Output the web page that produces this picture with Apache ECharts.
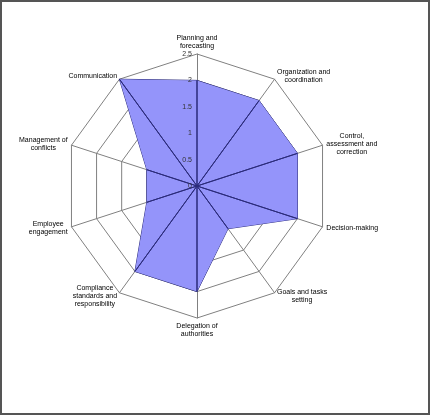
<!DOCTYPE html>
<html>
<head>
<meta charset="utf-8">
<script src="https://cdn.jsdelivr.net/npm/echarts@6/dist/echarts.min.js"></script>
<style>
  html, body { margin: 0; padding: 0; background: #fff; }
  #chart { position: absolute; left: 0; top: 0; width: 430px; height: 415px; }
  #frame { position: absolute; left: 0; top: 0; width: 426px; height: 411px; border: 2px solid #555; pointer-events: none; }
</style>
</head>
<body>
<div id="chart"></div>
<div id="frame"></div>
<script>
// indicators in clockwise order from the top
const categories = [
  'Planning and\nforecasting',
  'Organization and\ncoordination',
  'Control,\nassessment and\ncorrection',
  'Decision-making',
  'Goals and tasks\nsetting',
  'Delegation of\nauthorities',
  'Compliance\nstandards and\nresponsibility',
  'Employee\nengagement',
  'Management of\nconflicts',
  'Communication'
]
const values = [2, 2, 2, 2, 1, 2, 2, 1, 1, 2.5]
const axisMax = 2.5
const tickStep = 0.5

const font = 'Liberation Sans, Arial, sans-serif'
const center = [197, 186]
const radius = 132

// echarts places indicators counter-clockwise, so reverse all but the first
const order = [0].concat(categories.map((c, i) => i).slice(1).reverse())
const indicator = order.map(i => ({ name: categories[i], min: 0, max: axisMax }))
const mainValues = order.map(i => values[i])

// spokes inside the filled area: one degenerate polygon per axis
const spokes = order.map((i, k) => ({
  value: order.map((j, m) => (m === k ? values[i] : 0))
}))

const chart = echarts.init(document.getElementById('chart'))
chart.setOption({
  animation: false,
  textStyle: { fontFamily: font },
  radar: {
    center: center,
    radius: radius,
    startAngle: 90,
    shape: 'polygon',
    splitNumber: axisMax / tickStep,
    indicator: indicator,
    nameGap: 4,
    axisName: {
      color: '#000',
      fontSize: 7,
      lineHeight: 8,
      fontFamily: font,
      // centre every line inside the label block
      formatter: name => name.split('\n').map(s => '{c|' + s + '}').join('\n'),
      rich: {
        c: { align: 'center', color: '#000', fontSize: 7, lineHeight: 8, fontFamily: font }
      }
    },
    axisLine: { lineStyle: { color: '#808080', width: 1 } },
    splitLine: { lineStyle: { color: '#808080', width: 1 } },
    splitArea: { show: false },
    axisTick: { show: false },
    axisLabel: { show: false }
  },
  // polar overlay only used to print the tick labels along the top axis
  polar: { center: center, radius: radius },
  angleAxis: { show: false, startAngle: 90 },
  radiusAxis: {
    min: 0,
    max: axisMax,
    interval: tickStep,
    z: 10,
    axisLine: { show: false },
    axisTick: { show: false },
    splitLine: { show: false },
    axisLabel: { color: '#333', fontSize: 7, margin: 5, fontFamily: font }
  },
  series: [
    {
      type: 'radar',
      symbol: 'none',
      z: 2,
      lineStyle: { color: '#2b2b7a', width: 1 },
      areaStyle: { color: '#9494fa', opacity: 1 },
      data: [{ value: mainValues }]
    },
    {
      type: 'radar',
      z: 3,
      symbol: 'circle',
      symbolSize: v => (v === 0 ? 3 : 0),
      itemStyle: { color: '#000' },
      lineStyle: { color: '#2b2b7a', width: 1 },
      areaStyle: { opacity: 0 },
      data: spokes
    }
  ]
})
</script>
</body>
</html>
